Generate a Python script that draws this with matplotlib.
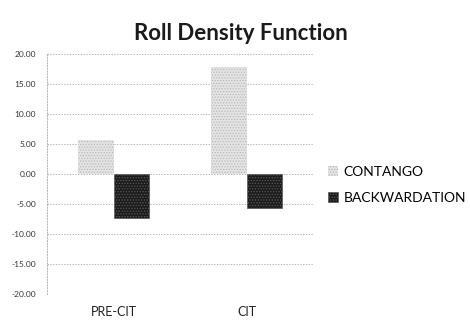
import matplotlib
matplotlib.use("Agg")
import matplotlib.pyplot as plt
import numpy as np

categories = ["PRE-CIT", "CIT"]
contango = [5.7, 17.8]
backwardation = [-7.3, -5.7]
y_ticks = [20, 15, 10, 5, 0, -5, -10, -15, -20]

plt.rcParams["font.family"] = ["Lato", "DejaVu Sans"]
plt.rcParams["hatch.linewidth"] = 0.6

fig = plt.figure(figsize=(4.7, 3.22), dpi=100)
ax = fig.add_axes([0.1, 0.087, 0.566, 0.745])

x = np.arange(len(categories))
w = 0.27
ax.bar(x - w / 2, contango, w, color="#e4e4e4", edgecolor="#b8b8b8",
       hatch="......", linewidth=0, label="CONTANGO", zorder=3)
ax.bar(x + w / 2, backwardation, w, color="#1c1c1c", edgecolor="#5a5a5a",
       hatch="......", linewidth=0.5, label="BACKWARDATION", zorder=3)

ax.set_xlim(-0.5, 1.5)
ax.set_ylim(-20, 20)
ax.set_yticks(y_ticks)
ax.set_yticklabels([f"{v:.2f}" for v in y_ticks], fontsize=6, color="#333333")
ax.set_xticks(x)
ax.set_xticklabels(categories, fontsize=9, color="#222222")
ax.tick_params(axis="both", length=0)
ax.tick_params(axis="y", pad=8)
ax.tick_params(axis="x", pad=9)

ax.grid(axis="y", color="#9a9a9a", linestyle=(0, (2, 2)), linewidth=0.5, zorder=0)
for s in ["top", "right", "bottom"]:
    ax.spines[s].set_visible(False)
ax.spines["left"].set_color("#9a9a9a")
ax.spines["left"].set_linestyle((0, (2, 2)))
ax.spines["left"].set_linewidth(0.5)

fig.text(0.513, 0.897, "Roll Density Function", ha="center", va="center",
         fontsize=16, fontweight="bold", color="#1a1a1a")

ax.legend(loc="center left", bbox_to_anchor=(1.0, 0.455), frameon=False,
          fontsize=10, handlelength=0.7, handleheight=0.7, handletextpad=0.4,
          labelspacing=1.0, borderaxespad=0.7)

fig.savefig("out.png", dpi=100)
